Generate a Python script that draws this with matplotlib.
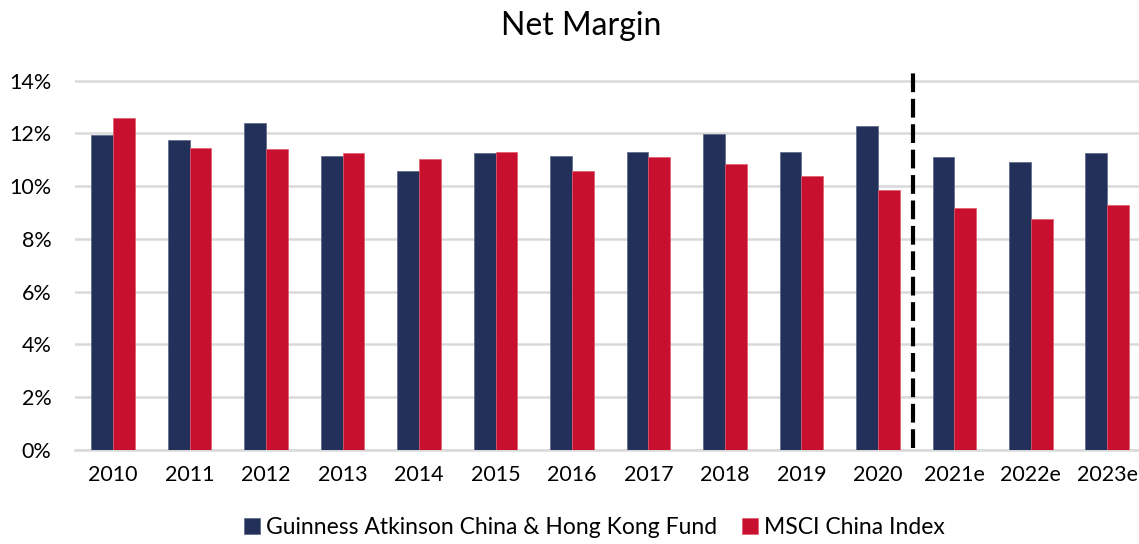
import numpy as np
import matplotlib.pyplot as plt
from matplotlib.ticker import FuncFormatter

# ── Data ─────────────────────────────────────────────────────────────────────
years = ["2010", "2011", "2012", "2013", "2014", "2015", "2016",
         "2017", "2018", "2019", "2020", "2021e", "2022e", "2023e"]
fund = [11.92, 11.73, 12.41, 11.16, 10.56, 11.24, 11.16,
        11.31, 11.99, 11.31, 12.26, 11.12, 10.90, 11.24]
msci = [12.60, 11.46, 11.39, 11.27, 11.01, 11.31, 10.59,
        11.09, 10.82, 10.40, 9.84, 9.16, 8.74, 9.27]
yticks = [0, 2, 4, 6, 8, 10, 12, 14]

NAVY = "#22305A"
RED = "#C8102E"

plt.rcParams["font.family"] = ["Lato", "DejaVu Sans"]

fig = plt.figure(figsize=(11.39, 5.44), dpi=100)
ax = fig.add_axes([0.0658, 0.1728, 0.9399, 0.6985])

x = np.arange(len(years))
w = 0.285
ax.bar(x - w / 2, fund, w, color=NAVY, edgecolor="#5a6585", linewidth=0.5,
       label="Guinness Atkinson China & Hong Kong Fund", zorder=3)
ax.bar(x + w / 2, msci, w, color=RED, edgecolor="#e05a6a", linewidth=0.5,
       label="MSCI China Index", zorder=3)

# forecast divider
ax.axvline(10.5 - 0.04, color="black", linewidth=3.0, dashes=(4.5, 1.6),
           ymin=0.005, ymax=1.0, zorder=4)

ax.set_xlim(-0.5, len(years) - 0.5)
ax.set_ylim(0, 14.4)
ax.set_yticks(yticks)
ax.yaxis.set_major_formatter(FuncFormatter(lambda v, _: f"{v:.0f}%"))
ax.set_xticks(x)
ax.set_xticklabels(years)
ax.tick_params(axis="both", length=0, labelsize=15.5, colors="black")
ax.tick_params(axis="x", pad=11)
ax.tick_params(axis="y", pad=17)
for lbl in ax.get_yticklabels():
    lbl.set_horizontalalignment("right")

ax.grid(axis="y", color="#d9d9d9", linewidth=1.8, zorder=0)
ax.set_axisbelow(True)
for s in ["top", "right", "left"]:
    ax.spines[s].set_visible(False)
ax.spines["bottom"].set_color("#d9d9d9")
ax.spines["bottom"].set_linewidth(1.8)

fig.text(0.51, 0.952, "Net Margin", ha="center", va="center", fontsize=23)

fig.legend(loc="center", bbox_to_anchor=(0.522, 0.03), ncol=2, frameon=False,
           fontsize=16.5, handlelength=0.7, handleheight=0.7, handletextpad=0.25,
           columnspacing=1.1, borderpad=0.1)

fig.savefig("out.png", dpi=100)
